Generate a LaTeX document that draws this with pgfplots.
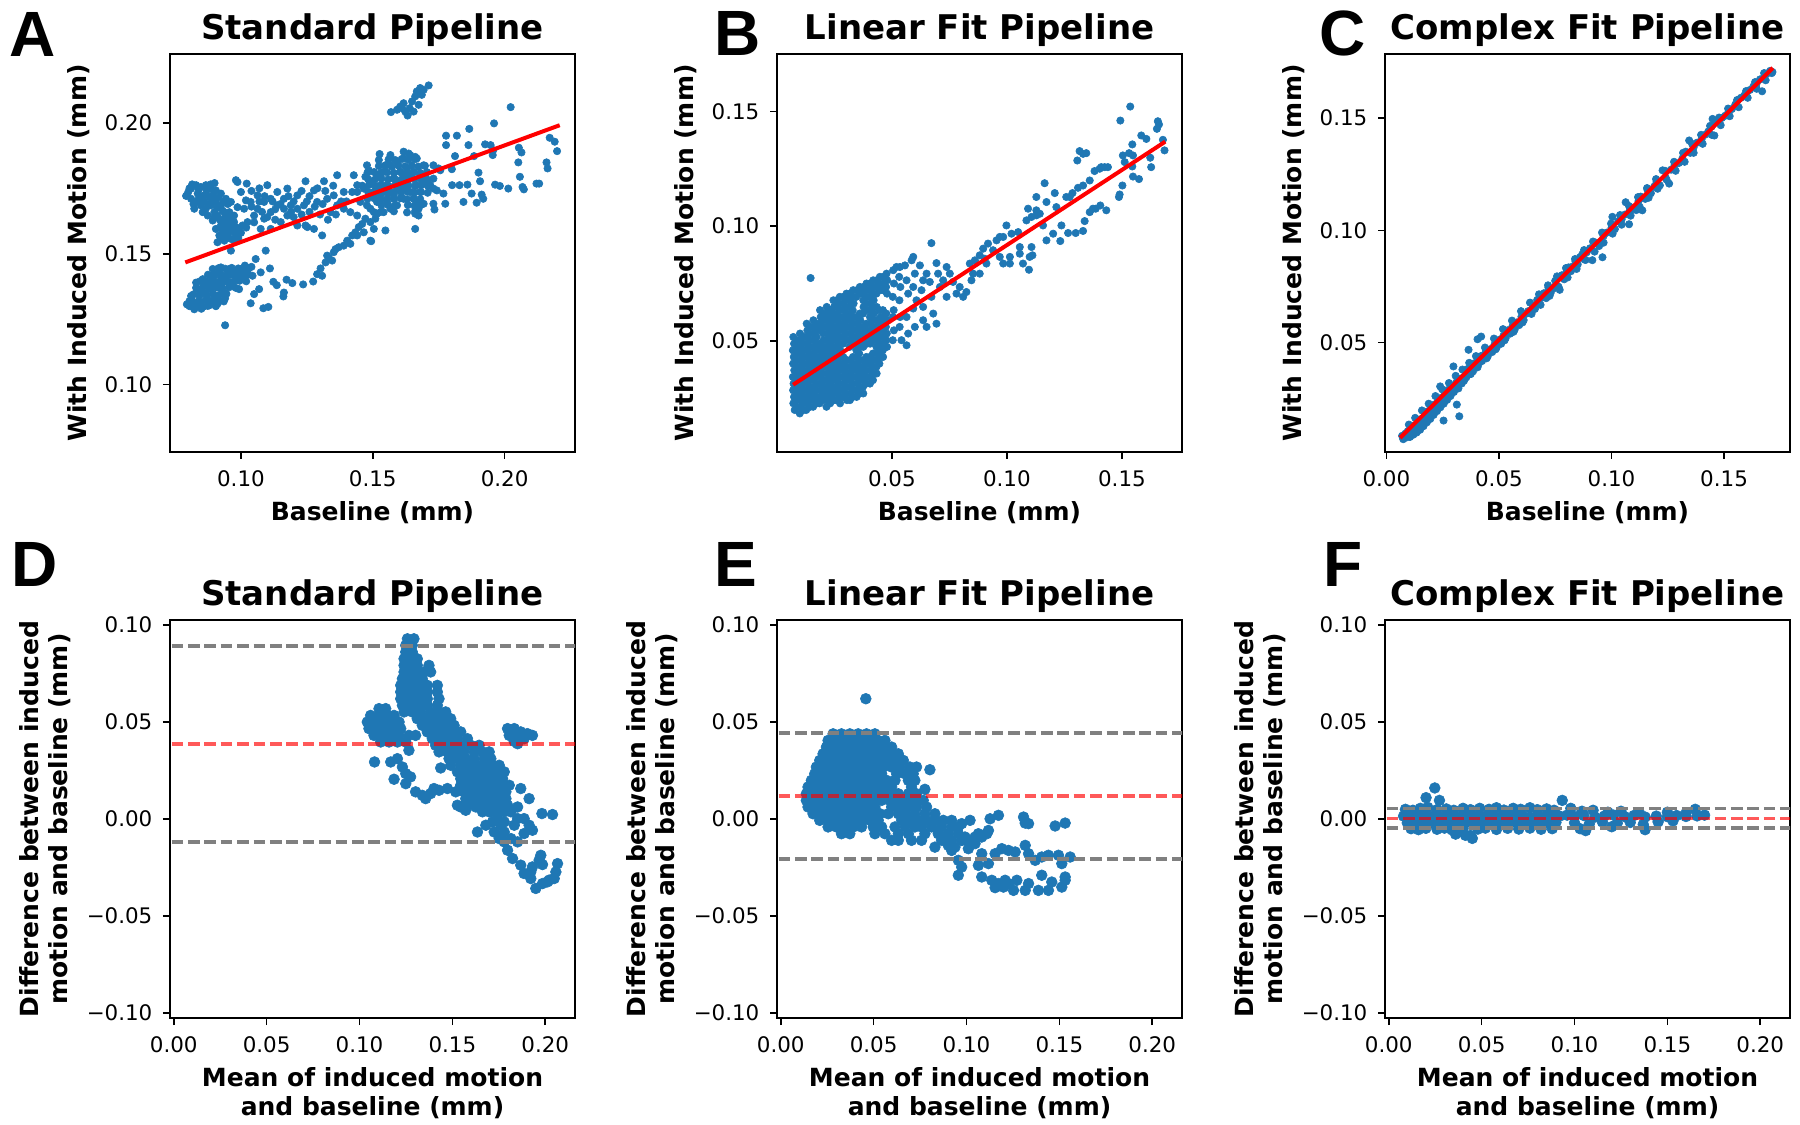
\documentclass[border=0pt]{standalone}
\usepackage{fontspec}
\setmainfont{DejaVu Sans}
\newfontfamily\letterfont{Liberation Sans}
\usepackage{pgfplots}
\pgfplotsset{compat=1.18}

\definecolor{dotblue}{HTML}{1F77B4}
\definecolor{loagray}{HTML}{808080}
\definecolor{fitred}{HTML}{FF0000}

\newcommand\ticksize{\fontsize{10.7}{12.8}\selectfont}
\newcommand\labsize{\fontsize{12.5}{14.5}\selectfont}
\newcommand\ttlsize{\fontsize{17}{20}\selectfont}
\newcommand\letsize{\fontsize{32}{36}\selectfont}

\pgfplotsset{
  panel/.style={
    scale only axis, width=202.5pt, height=199pt,
    clip marker paths=true,
    axis line style={line width=0.8pt, black},
    tick align=outside, xtick pos=left, ytick pos=left,
    major tick length=3.5pt,
    every tick/.style={black, line width=0.8pt},
    tick label style={font=\ticksize, black},
    xticklabel style={yshift=-2.3pt},
    yticklabel style={xshift=-1.8pt},
    every axis title/.style={at={(0.5,1)}, anchor=base, yshift=7pt, font=\ttlsize\bfseries},
    every axis x label/.style={at={(axis description cs:0.5,0)}, anchor=north, yshift=-24.8pt,
      font=\labsize\bfseries, inner sep=0pt, align=center},
    every axis y label/.style={at={(axis description cs:-0.1975,0.5)}, anchor=south, rotate=90,
      font=\labsize\bfseries, inner sep=0pt, align=center},
  },
  baplot/.style={panel, xmin=-0.002, xmax=0.216, ymin=-0.1026, ymax=0.1026,
    xtick={0,0.05,0.10,0.15,0.20}, xticklabels={0.00,0.05,0.10,0.15,0.20},
    ytick={-0.10,-0.05,0,0.05,0.10}, yticklabels={−0.10,−0.05,0.00,0.05,0.10},
    xlabel={Mean of induced motion\\and baseline (mm)},
    ylabel={Difference between induced\\motion and baseline (mm)},
    every axis y label/.append style={at={(axis description cs:-0.2444,0.5)}},
  },
  scat/.style={only marks, color=dotblue, mark=*, mark size=1.85pt,
    mark options={fill=dotblue, draw=dotblue, line width=0.3pt}},
  bigscat/.style={only marks, color=dotblue, mark=*, mark size=2.7pt,
    mark options={fill=dotblue, draw=dotblue, line width=0.3pt}},
  fitline/.style={fitred, line width=2pt, no marks},
  loa/.style={loagray, line width=1.7pt, no marks, dash pattern=on 5.8pt off 2.4pt},
  meanline/.style={red, opacity=0.65, line width=1.7pt, no marks, dash pattern=on 5.8pt off 2.4pt},
}

\begin{document}
\begin{tikzpicture}
\path[use as bounding box] (0,0) rectangle (900pt,562.5pt);

% ---------------- A: standard pipeline, scatter ----------------
\begin{axis}[panel, at={(85pt,336.5pt)}, anchor=south west,
  xmin=0.0731, xmax=0.2267, ymin=0.0743, ymax=0.2263,
  xtick={0.10,0.15,0.20}, xticklabels={0.10,0.15,0.20},
  ytick={0.10,0.15,0.20}, yticklabels={0.10,0.15,0.20},
  title={Standard Pipeline}, xlabel={Baseline (mm)}, ylabel={With Induced Motion (mm)}]
\addplot[scat] coordinates {
(0.0795,0.1307) (0.0823,0.1288) (0.0811,0.1339) (0.0836,0.1365) (0.0830,0.1390) (0.0855,0.1403)
(0.0848,0.1314) (0.0874,0.1326) (0.0861,0.1352) (0.0886,0.1365) (0.0880,0.1390) (0.0899,0.1416)
(0.0893,0.1442) (0.0924,0.1448) (0.0911,0.1339) (0.0905,0.1301) (0.0937,0.1352) (0.0930,0.1390)
(0.0949,0.1416) (0.0956,0.1442) (0.0974,0.1429) (0.0968,0.1378) (0.0987,0.1416) (0.1000,0.1442)
(0.1012,0.1403) (0.1025,0.1429) (0.1044,0.1416) (0.0993,0.1365) (0.0937,0.1416) (0.0911,0.1390)
(0.0861,0.1378) (0.0842,0.1339) (0.0874,0.1301) (0.0899,0.1326) (0.0817,0.1314) (0.0886,0.1416)
(0.0962,0.1390) (0.0918,0.1429) (0.0805,0.1320) (0.0850,0.1290) (0.0868,0.1345) (0.0895,0.1380)
(0.0920,0.1370) (0.0945,0.1395) (0.0960,0.1420) (0.0980,0.1398) (0.1005,0.1420) (0.1030,0.1445)
(0.0940,0.1330) (0.0912,0.1310) (0.0865,0.1395) (0.0925,0.1410) (0.1040,0.1450) (0.1015,0.1455)
(0.0805,0.1300) (0.0830,0.1302) (0.0857,0.1298) (0.0880,0.1303) (0.0905,0.1300)
(0.0815,0.1322) (0.0840,0.1318) (0.0865,0.1323) (0.0890,0.1320) (0.0915,0.1322) (0.0935,0.1318)
(0.0820,0.1345) (0.0845,0.1347) (0.0870,0.1343) (0.0895,0.1346) (0.0920,0.1344) (0.0945,0.1347)
(0.0830,0.1370) (0.0855,0.1372) (0.0880,0.1368) (0.0905,0.1371) (0.0930,0.1369) (0.0955,0.1372) (0.0980,0.1370)
(0.0845,0.1395) (0.0870,0.1393) (0.0895,0.1397) (0.0920,0.1394) (0.0945,0.1396) (0.0970,0.1393) (0.0995,0.1397) (0.1020,0.1395)
(0.0875,0.1420) (0.0900,0.1422) (0.0925,0.1418) (0.0950,0.1421) (0.0975,0.1419) (0.1000,0.1422) (0.1025,0.1420)
(0.0915,0.1445) (0.0940,0.1443) (0.0965,0.1446) (0.0990,0.1444) (0.1015,0.1446)
(0.1056,0.1480) (0.1094,0.1512) (0.1075,0.1429) (0.1110,0.1444) (0.1037,0.1311) (0.1050,0.1346)
(0.1069,0.1365) (0.1085,0.1292) (0.1104,0.1297) (0.0940,0.1227) (0.0962,0.1512) (0.1123,0.1393)
(0.1136,0.1380) (0.1163,0.1352) (0.1161,0.1337) (0.1173,0.1401) (0.1195,0.1388) (0.1236,0.1383)
(0.1274,0.1394) (0.1289,0.1422) (0.1302,0.1444) (0.1321,0.1467) (0.1334,0.1483) (0.1352,0.1506)
(0.1371,0.1525) (0.1390,0.1531) (0.1403,0.1550) (0.1422,0.1570) (0.1434,0.1582) (0.1447,0.1602)
(0.1460,0.1614) (0.1472,0.1634) (0.1491,0.1550) (0.1327,0.1493) (0.1359,0.1518) (0.1415,0.1538)
(0.1441,0.1570) (0.1466,0.1582) (0.1491,0.1621) (0.1510,0.1634) (0.1516,0.1653) (0.1548,0.1589)
(0.1504,0.1595) (0.1308,0.1416) (0.1346,0.1474)
(0.1569,0.2041) (0.1592,0.2050) (0.1604,0.2062) (0.1617,0.2075) (0.1632,0.2028) (0.1640,0.2056)
(0.1649,0.2082) (0.1661,0.2101) (0.1667,0.2120) (0.1680,0.2133) (0.1686,0.2107) (0.1674,0.2069)
(0.1655,0.2043) (0.1623,0.2043) (0.1712,0.2143) (0.1611,0.2056) (0.1693,0.2126)
(0.1491,0.1774) (0.1516,0.1800) (0.1541,0.1813) (0.1567,0.1838) (0.1592,0.1851) (0.1617,0.1864)
(0.1642,0.1877) (0.1667,0.1864) (0.1693,0.1838) (0.1680,0.1800) (0.1667,0.1762) (0.1642,0.1736)
(0.1617,0.1710) (0.1592,0.1685) (0.1567,0.1672) (0.1541,0.1659) (0.1516,0.1698) (0.1491,0.1723)
(0.1466,0.1749) (0.1478,0.1685) (0.1504,0.1659) (0.1529,0.1723) (0.1554,0.1762) (0.1579,0.1787)
(0.1604,0.1813) (0.1630,0.1826) (0.1655,0.1813) (0.1680,0.1736) (0.1655,0.1710) (0.1630,0.1774)
(0.1604,0.1749) (0.1579,0.1723) (0.1554,0.1698) (0.1529,0.1762) (0.1567,0.1877) (0.1617,0.1890)
(0.1548,0.1838) (0.1504,0.1736) (0.1453,0.1698) (0.1441,0.1736) (0.1472,0.1794) (0.1523,0.1858)
(0.1699,0.1800) (0.1674,0.1672) (0.1693,0.1774) (0.1642,0.1800) (0.1592,0.1774) (0.1617,0.1800)
(0.1567,0.1736) (0.1541,0.1736) (0.1516,0.1749) (0.1617,0.1749) (0.1667,0.1698) (0.1636,0.1883)
(0.1661,0.1870) (0.1491,0.1672) (0.1526,0.1881) (0.1478,0.1838) (0.1485,0.1819) (0.1661,0.1653)
(0.1730,0.1838) (0.1749,0.1826)
(0.1560,0.1860) (0.1585,0.1858) (0.1610,0.1862) (0.1635,0.1859) (0.1660,0.1861)
(0.1523,0.1835) (0.1548,0.1837) (0.1573,0.1833) (0.1598,0.1836) (0.1623,0.1834) (0.1648,0.1837) (0.1673,0.1833) (0.1698,0.1836)
(0.1480,0.1810) (0.1505,0.1812) (0.1530,0.1808) (0.1555,0.1811) (0.1580,0.1809) (0.1605,0.1812) (0.1630,0.1808) (0.1655,0.1811) (0.1680,0.1809) (0.1705,0.1812)
(0.1483,0.1785) (0.1508,0.1783) (0.1533,0.1787) (0.1558,0.1784) (0.1583,0.1786) (0.1608,0.1783) (0.1633,0.1787) (0.1658,0.1784) (0.1683,0.1786) (0.1708,0.1783) (0.1730,0.1787)
(0.1460,0.1760) (0.1485,0.1762) (0.1510,0.1758) (0.1535,0.1761) (0.1560,0.1759) (0.1585,0.1762) (0.1610,0.1758) (0.1635,0.1761) (0.1660,0.1759) (0.1685,0.1762) (0.1710,0.1758)
(0.1483,0.1735) (0.1508,0.1733) (0.1533,0.1737) (0.1558,0.1734) (0.1583,0.1736) (0.1608,0.1733) (0.1633,0.1737) (0.1658,0.1734) (0.1683,0.1736) (0.1708,0.1733)
(0.1480,0.1710) (0.1505,0.1712) (0.1530,0.1708) (0.1555,0.1711) (0.1580,0.1709) (0.1605,0.1712) (0.1630,0.1708) (0.1655,0.1711) (0.1680,0.1709)
(0.1533,0.1685) (0.1558,0.1687) (0.1583,0.1683) (0.1633,0.1686) (0.1658,0.1684) (0.1683,0.1687)
(0.1530,0.1660) (0.1580,0.1662) (0.1630,0.1658) (0.1660,0.1661)
(0.0987,0.1774) (0.1022,0.1768) (0.1063,0.1723) (0.1100,0.1762) (0.1138,0.1736) (0.1176,0.1749)
(0.1214,0.1723) (0.1245,0.1777) (0.1277,0.1742) (0.1315,0.1777) (0.1365,0.1800) (0.1428,0.1800)
(0.1012,0.1672) (0.1050,0.1646) (0.1088,0.1634) (0.1113,0.1659) (0.1151,0.1621) (0.1176,0.1646)
(0.1214,0.1608) (0.1252,0.1602) (0.1277,0.1595) (0.1308,0.1570) (0.1340,0.1659) (0.1365,0.1685)
(0.1390,0.1672) (0.1415,0.1659) (0.1441,0.1646) (0.1390,0.1736) (0.1327,0.1710) (0.1289,0.1698)
(0.1239,0.1685) (0.1189,0.1685) (0.1138,0.1685) (0.1088,0.1698) (0.1037,0.1698) (0.1000,0.1736)
(0.1025,0.1621) (0.1075,0.1595) (0.1113,0.1595) (0.1163,0.1672) (0.1214,0.1672) (0.1063,0.1672)
(0.1113,0.1710) (0.1163,0.1710) (0.0974,0.1621) (0.1245,0.1608) (0.1352,0.1723) (0.1422,0.1736)
(0.1441,0.1762)
(0.1040,0.1740) (0.1070,0.1750) (0.1090,0.1720) (0.1120,0.1700) (0.1150,0.1690) (0.1180,0.1720)
(0.1200,0.1700) (0.1230,0.1740) (0.1260,0.1720) (0.1290,0.1750) (0.1320,0.1740) (0.1350,0.1760)
(0.1380,0.1700) (0.1050,0.1620) (0.1080,0.1660) (0.1100,0.1640) (0.1130,0.1630) (0.1200,0.1640)
(0.1230,0.1650) (0.1260,0.1660) (0.1300,0.1650) (0.1330,0.1630) (0.1040,0.1680) (0.1070,0.1700)
(0.1130,0.1670) (0.1190,0.1660) (0.1250,0.1700) (0.1280,0.1680) (0.1310,0.1690) (0.1360,0.1650)
(0.1400,0.1700)
(0.0792,0.1721) (0.0811,0.1749) (0.0830,0.1762) (0.0848,0.1755) (0.0867,0.1762) (0.0886,0.1749)
(0.0905,0.1742) (0.0924,0.1730) (0.0811,0.1710) (0.0830,0.1698) (0.0848,0.1685) (0.0867,0.1672)
(0.0886,0.1685) (0.0905,0.1698) (0.0924,0.1685) (0.0943,0.1710) (0.0962,0.1698) (0.0861,0.1723)
(0.0836,0.1730) (0.0880,0.1717) (0.0874,0.1646) (0.0893,0.1627) (0.0911,0.1646) (0.0937,0.1659)
(0.0905,0.1595) (0.0924,0.1608) (0.0943,0.1621) (0.0918,0.1570) (0.0937,0.1582) (0.0956,0.1595)
(0.0911,0.1544) (0.0937,0.1550) (0.0962,0.1557) (0.0981,0.1570) (0.0993,0.1589) (0.1006,0.1608)
(0.0974,0.1646) (0.0956,0.1659) (0.0987,0.1678) (0.1019,0.1704) (0.0981,0.1781) (0.0899,0.1659)
(0.0855,0.1659) (0.0823,0.1672)
(0.0800,0.1735) (0.0815,0.1765) (0.0840,0.1745) (0.0855,0.1720) (0.0870,0.1740) (0.0895,0.1725)
(0.0915,0.1715) (0.0935,0.1700) (0.0950,0.1690) (0.0820,0.1690) (0.0840,0.1710) (0.0860,0.1700)
(0.0875,0.1690) (0.0895,0.1705) (0.0910,0.1675) (0.0930,0.1665) (0.0950,0.1650) (0.0900,0.1640)
(0.0920,0.1630) (0.0940,0.1640) (0.0960,0.1630) (0.0965,0.1610) (0.0945,0.1600) (0.0930,0.1590)
(0.0950,0.1575) (0.0970,0.1585) (0.0985,0.1600) (0.0925,0.1560) (0.0945,0.1560) (0.0975,0.1550)
(0.0990,0.1560) (0.1000,0.1580) (0.1020,0.1600) (0.0805,0.1750) (0.0885,0.1765) (0.0900,0.1770)
(0.1778,0.1951) (0.1819,0.1951) (0.1866,0.1977) (0.1960,0.1998) (0.2023,0.2060) (0.1778,0.1915)
(0.1863,0.1915) (0.1926,0.1918) (0.1947,0.1915) (0.1957,0.1896) (0.1812,0.1873) (0.1884,0.1873)
(0.1955,0.1877) (0.2054,0.1905) (0.2064,0.1887) (0.2052,0.1849) (0.2171,0.1943) (0.2190,0.1928)
(0.2199,0.1892) (0.2159,0.1849) (0.2163,0.1826) (0.2058,0.1794) (0.2068,0.1755) (0.2073,0.1746)
(0.2121,0.1768) (0.2131,0.1768) (0.1964,0.1764) (0.1982,0.1759) (0.2014,0.1749) (0.1901,0.1810)
(0.1907,0.1777) (0.1875,0.1730) (0.1913,0.1726) (0.1919,0.1710) (0.1894,0.1695) (0.1844,0.1698)
(0.1829,0.1762) (0.1859,0.1764) (0.1801,0.1762) (0.1800,0.1823) (0.1756,0.1819) (0.1730,0.1749)
(0.1743,0.1742) (0.1768,0.1730) (0.1775,0.1691) (0.1730,0.1691) (0.1734,0.1669) (0.1693,0.1691)
(0.1674,0.1646) (0.1661,0.1595) (0.1494,0.1548) (0.1718,0.1762)
};
\addplot[fitline] coordinates {(0.0789,0.1467) (0.2209,0.1991)};
\end{axis}

% ---------------- B: linear fit pipeline, scatter ----------------
\begin{axis}[panel, at={(388.5pt,336.5pt)}, anchor=south west,
  xmin=0.0001, xmax=0.1761, ymin=0.0016, ymax=0.1750,
  xtick={0.05,0.10,0.15}, xticklabels={0.05,0.10,0.15},
  ytick={0.05,0.10,0.15}, yticklabels={0.05,0.10,0.15},
  title={Linear Fit Pipeline}, xlabel={Baseline (mm)}, ylabel={With Induced Motion (mm)}]
\addplot[scat] coordinates {
(0.0072,0.0517) (0.0075,0.0488) (0.0070,0.0459) (0.0074,0.0430) (0.0071,0.0401) (0.0076,0.0372)
(0.0070,0.0343) (0.0073,0.0314) (0.0071,0.0285) (0.0075,0.0256) (0.0072,0.0228) (0.0078,0.0199)
(0.0101,0.0532) (0.0098,0.0503) (0.0104,0.0474) (0.0100,0.0445) (0.0103,0.0416) (0.0099,0.0387)
(0.0102,0.0358) (0.0100,0.0329) (0.0104,0.0300) (0.0098,0.0271) (0.0101,0.0242) (0.0103,0.0213)
(0.0100,0.0184)
(0.0130,0.0575) (0.0133,0.0546) (0.0127,0.0517) (0.0131,0.0488) (0.0128,0.0459) (0.0133,0.0430)
(0.0129,0.0401) (0.0132,0.0372) (0.0127,0.0343) (0.0131,0.0314) (0.0129,0.0285) (0.0133,0.0256)
(0.0130,0.0228) (0.0128,0.0199)
(0.0159,0.0590) (0.0156,0.0561) (0.0161,0.0532) (0.0158,0.0503) (0.0162,0.0474) (0.0157,0.0445)
(0.0160,0.0416) (0.0156,0.0387) (0.0161,0.0358) (0.0158,0.0329) (0.0162,0.0300) (0.0157,0.0271)
(0.0160,0.0242) (0.0158,0.0213)
(0.0188,0.0634) (0.0191,0.0604) (0.0186,0.0575) (0.0190,0.0546) (0.0187,0.0488) (0.0191,0.0459)
(0.0185,0.0430) (0.0189,0.0401) (0.0186,0.0372) (0.0190,0.0343) (0.0187,0.0314) (0.0191,0.0285)
(0.0188,0.0256) (0.0186,0.0228)
(0.0217,0.0648) (0.0214,0.0619) (0.0219,0.0590) (0.0215,0.0561) (0.0220,0.0532) (0.0216,0.0503)
(0.0218,0.0474) (0.0214,0.0445) (0.0219,0.0416) (0.0216,0.0387) (0.0220,0.0358) (0.0215,0.0329)
(0.0218,0.0300) (0.0214,0.0271) (0.0219,0.0242) (0.0216,0.0213)
(0.0246,0.0677) (0.0249,0.0648) (0.0244,0.0619) (0.0248,0.0590) (0.0245,0.0561) (0.0249,0.0532)
(0.0243,0.0503) (0.0247,0.0474) (0.0244,0.0445) (0.0248,0.0416) (0.0245,0.0387) (0.0249,0.0358)
(0.0244,0.0329) (0.0247,0.0300) (0.0245,0.0271) (0.0248,0.0242)
(0.0274,0.0692) (0.0271,0.0663) (0.0276,0.0634) (0.0272,0.0604) (0.0277,0.0575) (0.0273,0.0546)
(0.0275,0.0517) (0.0271,0.0488) (0.0276,0.0459) (0.0273,0.0430) (0.0277,0.0401) (0.0272,0.0372)
(0.0275,0.0343) (0.0271,0.0314) (0.0276,0.0285) (0.0273,0.0256) (0.0275,0.0228)
(0.0303,0.0706) (0.0306,0.0677) (0.0301,0.0648) (0.0305,0.0619) (0.0302,0.0590) (0.0306,0.0561)
(0.0300,0.0532) (0.0304,0.0503) (0.0305,0.0416) (0.0301,0.0387) (0.0306,0.0358) (0.0302,0.0329)
(0.0304,0.0300) (0.0301,0.0271) (0.0305,0.0242)
(0.0332,0.0721) (0.0329,0.0692) (0.0334,0.0663) (0.0330,0.0634) (0.0335,0.0604) (0.0331,0.0575)
(0.0333,0.0546) (0.0329,0.0517) (0.0334,0.0488) (0.0331,0.0430) (0.0335,0.0401) (0.0330,0.0372)
(0.0333,0.0343) (0.0329,0.0314) (0.0334,0.0285) (0.0331,0.0256)
(0.0361,0.0735) (0.0364,0.0706) (0.0360,0.0619) (0.0363,0.0590) (0.0359,0.0561) (0.0364,0.0532)
(0.0360,0.0503) (0.0362,0.0474) (0.0358,0.0445) (0.0363,0.0416) (0.0360,0.0387) (0.0364,0.0358)
(0.0359,0.0329) (0.0362,0.0300) (0.0360,0.0271)
(0.0390,0.0750) (0.0387,0.0721) (0.0392,0.0692) (0.0388,0.0663) (0.0393,0.0634) (0.0389,0.0575)
(0.0391,0.0546) (0.0387,0.0517) (0.0392,0.0488) (0.0389,0.0430) (0.0393,0.0401) (0.0388,0.0372)
(0.0391,0.0343) (0.0389,0.0314)
(0.0419,0.0764) (0.0422,0.0735) (0.0417,0.0706) (0.0421,0.0677) (0.0418,0.0648) (0.0422,0.0619)
(0.0416,0.0590) (0.0420,0.0561) (0.0417,0.0532) (0.0421,0.0503) (0.0418,0.0445) (0.0422,0.0416)
(0.0417,0.0387) (0.0420,0.0358) (0.0418,0.0329)
(0.0448,0.0779) (0.0445,0.0750) (0.0450,0.0721) (0.0446,0.0634) (0.0451,0.0604) (0.0447,0.0575)
(0.0449,0.0546) (0.0445,0.0517) (0.0450,0.0488) (0.0447,0.0459) (0.0451,0.0430) (0.0446,0.0401)
(0.0477,0.0793) (0.0480,0.0764) (0.0475,0.0735) (0.0479,0.0706) (0.0476,0.0619) (0.0480,0.0590)
(0.0474,0.0561) (0.0478,0.0532) (0.0476,0.0503) (0.0479,0.0474)
(0.0506,0.0808) (0.0509,0.0750) (0.0504,0.0692) (0.0508,0.0634) (0.0505,0.0604) (0.0509,0.0546)
(0.0504,0.0503)
(0.0535,0.0822) (0.0532,0.0779) (0.0537,0.0735) (0.0533,0.0677) (0.0536,0.0604) (0.0534,0.0561)
(0.0087,0.0213) (0.0086,0.0242) (0.0088,0.0271) (0.0087,0.0300) (0.0086,0.0329) (0.0088,0.0358)
(0.0087,0.0387) (0.0086,0.0416) (0.0088,0.0445) (0.0087,0.0474) (0.0086,0.0503)
(0.0116,0.0199) (0.0115,0.0228) (0.0117,0.0256) (0.0116,0.0285) (0.0115,0.0314) (0.0117,0.0343)
(0.0116,0.0372) (0.0115,0.0401) (0.0117,0.0430) (0.0116,0.0459) (0.0115,0.0488) (0.0117,0.0517)
(0.0145,0.0213) (0.0144,0.0242) (0.0146,0.0271) (0.0145,0.0300) (0.0144,0.0329) (0.0146,0.0358)
(0.0145,0.0387) (0.0144,0.0416) (0.0146,0.0445) (0.0145,0.0474) (0.0144,0.0503) (0.0146,0.0532)
(0.0145,0.0561)
(0.0174,0.0228) (0.0173,0.0256) (0.0175,0.0285) (0.0174,0.0314) (0.0173,0.0343) (0.0175,0.0372)
(0.0174,0.0401) (0.0173,0.0430) (0.0175,0.0459) (0.0174,0.0488) (0.0173,0.0517) (0.0175,0.0546)
(0.0174,0.0575)
(0.0203,0.0242) (0.0202,0.0271) (0.0204,0.0300) (0.0203,0.0329) (0.0202,0.0358) (0.0204,0.0387)
(0.0203,0.0416) (0.0202,0.0445) (0.0204,0.0474) (0.0203,0.0503) (0.0202,0.0532) (0.0204,0.0561)
(0.0203,0.0590) (0.0202,0.0619)
(0.0232,0.0228) (0.0231,0.0256) (0.0233,0.0285) (0.0232,0.0314) (0.0231,0.0343) (0.0233,0.0372)
(0.0232,0.0401) (0.0231,0.0430) (0.0233,0.0459) (0.0232,0.0488) (0.0231,0.0517) (0.0233,0.0546)
(0.0232,0.0575) (0.0231,0.0604) (0.0233,0.0634)
(0.0260,0.0242) (0.0259,0.0271) (0.0261,0.0300) (0.0260,0.0329) (0.0259,0.0358) (0.0261,0.0387)
(0.0260,0.0416) (0.0259,0.0445) (0.0261,0.0474) (0.0260,0.0503) (0.0259,0.0532) (0.0261,0.0561)
(0.0260,0.0590) (0.0259,0.0619) (0.0261,0.0648) (0.0260,0.0677)
(0.0289,0.0256) (0.0288,0.0285) (0.0290,0.0314) (0.0289,0.0343) (0.0288,0.0372) (0.0290,0.0401)
(0.0289,0.0430) (0.0288,0.0488) (0.0290,0.0517) (0.0289,0.0546) (0.0288,0.0575) (0.0290,0.0604)
(0.0289,0.0634) (0.0288,0.0663) (0.0290,0.0692)
(0.0318,0.0242) (0.0317,0.0271) (0.0319,0.0300) (0.0318,0.0329) (0.0317,0.0358) (0.0319,0.0387)
(0.0318,0.0416) (0.0317,0.0474) (0.0319,0.0503) (0.0318,0.0532) (0.0317,0.0561) (0.0319,0.0590)
(0.0318,0.0619) (0.0317,0.0648) (0.0319,0.0677) (0.0318,0.0706)
(0.0347,0.0256) (0.0346,0.0285) (0.0348,0.0314) (0.0347,0.0343) (0.0346,0.0372) (0.0348,0.0401)
(0.0347,0.0430) (0.0346,0.0459) (0.0348,0.0488) (0.0347,0.0517) (0.0346,0.0546) (0.0348,0.0575)
(0.0347,0.0604) (0.0346,0.0692) (0.0348,0.0721)
(0.0376,0.0271) (0.0375,0.0300) (0.0377,0.0329) (0.0376,0.0358) (0.0375,0.0387) (0.0377,0.0416)
(0.0376,0.0474) (0.0375,0.0503) (0.0377,0.0532) (0.0376,0.0561) (0.0375,0.0619) (0.0377,0.0648)
(0.0376,0.0677) (0.0375,0.0706) (0.0377,0.0735)
(0.0405,0.0314) (0.0404,0.0343) (0.0406,0.0372) (0.0405,0.0401) (0.0404,0.0430) (0.0406,0.0488)
(0.0405,0.0517) (0.0404,0.0546) (0.0406,0.0575) (0.0405,0.0604) (0.0404,0.0634) (0.0406,0.0663)
(0.0405,0.0692) (0.0404,0.0721) (0.0406,0.0750)
(0.0434,0.0358) (0.0433,0.0387) (0.0435,0.0416) (0.0434,0.0445) (0.0433,0.0474) (0.0435,0.0503)
(0.0434,0.0532) (0.0433,0.0561) (0.0435,0.0590) (0.0434,0.0648) (0.0433,0.0706) (0.0435,0.0735)
(0.0434,0.0764)
(0.0462,0.0430) (0.0461,0.0459) (0.0463,0.0488) (0.0462,0.0517) (0.0461,0.0546) (0.0463,0.0575)
(0.0462,0.0604) (0.0461,0.0634) (0.0463,0.0721) (0.0462,0.0750) (0.0461,0.0779)
(0.0557,0.0829) (0.0564,0.0764) (0.0571,0.0706) (0.0564,0.0604) (0.0571,0.0532) (0.0564,0.0481)
(0.0593,0.0866) (0.0600,0.0793) (0.0593,0.0735) (0.0607,0.0677) (0.0593,0.0641) (0.0600,0.0561)
(0.0622,0.0829) (0.0636,0.0764) (0.0629,0.0721) (0.0636,0.0648) (0.0636,0.0590) (0.0651,0.0793)
(0.0665,0.0757) (0.0672,0.0692) (0.0680,0.0619) (0.0694,0.0839) (0.0701,0.0793) (0.0709,0.0735)
(0.0723,0.0764) (0.0738,0.0822) (0.0752,0.0793) (0.0766,0.0757) (0.0781,0.0706) (0.0795,0.0735)
(0.0810,0.0692) (0.0824,0.0713) (0.0738,0.0692) (0.0694,0.0575) (0.0651,0.0561) (0.0542,0.0503)
(0.0672,0.0926) (0.0147,0.0774) (0.0586,0.0851) (0.0520,0.0822)
(0.0839,0.0837) (0.0861,0.0851) (0.0882,0.0873) (0.0897,0.0902) (0.0918,0.0924) (0.0940,0.0895)
(0.0955,0.0938) (0.0969,0.0866) (0.0911,0.0837) (0.0882,0.0793) (0.0853,0.0793) (0.0846,0.0764)
(0.0904,0.0858) (0.0984,0.0953) (0.1020,0.0967) (0.1013,0.0866) (0.1013,0.0837) (0.1056,0.0880)
(0.1070,0.0837) (0.1099,0.0866) (0.1096,0.0810) (0.0984,0.0837) (0.1107,0.0909) (0.1056,0.0909)
(0.1085,0.1025) (0.1107,0.1040) (0.1128,0.1047) (0.1143,0.1054) (0.1128,0.1127) (0.1164,0.1187)
(0.1172,0.1105) (0.1157,0.1003) (0.1172,0.0938) (0.1237,0.1003) (0.1232,0.0935) (0.1208,0.1144)
(0.1215,0.1083) (0.1258,0.1127) (0.1285,0.1144) (0.1309,0.1167) (0.1331,0.1177) (0.1360,0.1199)
(0.1381,0.1240) (0.1403,0.1250) (0.1425,0.1257) (0.1439,0.1257) (0.1306,0.1286) (0.1316,0.1327)
(0.1331,0.1315) (0.1345,0.1318) (0.1266,0.0970) (0.1299,0.0970) (0.1331,0.0979) (0.1338,0.1022)
(0.1360,0.1061) (0.1386,0.1076) (0.1406,0.1090) (0.1432,0.1069) (0.1487,0.1127) (0.1490,0.1138)
(0.1502,0.1177) (0.1548,0.1216) (0.1574,0.1205) (0.1545,0.1260) (0.1548,0.1308) (0.1504,0.1308)
(0.1531,0.1318) (0.1545,0.1356) (0.1584,0.1395) (0.1606,0.1380) (0.1623,0.1298) (0.1627,0.1257)
(0.1656,0.1457) (0.1661,0.1443) (0.1652,0.1424) (0.1678,0.1376) (0.1685,0.1330) (0.1493,0.1460)
(0.1536,0.1521) (0.0998,0.1003) (0.1049,0.0974) (0.1092,0.1076) (0.0969,0.0953) (0.1273,0.1127)
(0.1374,0.1076) (0.1512,0.1279) (0.1410,0.1257) (0.1128,0.1069) (0.1201,0.0967) (0.1111,0.0873)
};
\addplot[fitline] coordinates {(0.0071,0.0309) (0.1688,0.1368)};
\end{axis}

% ---------------- C: complex fit pipeline, scatter ----------------
\begin{axis}[panel, at={(692.5pt,336.5pt)}, anchor=south west,
  xmin=-0.0006, xmax=0.1793, ymin=0.0013, ymax=0.1785,
  xtick={0,0.05,0.10,0.15}, xticklabels={0.00,0.05,0.10,0.15},
  ytick={0.05,0.10,0.15}, yticklabels={0.05,0.10,0.15},
  title={Complex Fit Pipeline}, xlabel={Baseline (mm)}, ylabel={With Induced Motion (mm)}]
\addplot[scat] coordinates {
(0.0070,0.0085) (0.0075,0.0070) (0.0085,0.0095) (0.0090,0.0078) (0.0095,0.0105) (0.0100,0.0088)
(0.0105,0.0080) (0.0110,0.0120) (0.0115,0.0098) (0.0120,0.0090) (0.0125,0.0132) (0.0130,0.0110)
(0.0135,0.0100) (0.0140,0.0145) (0.0145,0.0125) (0.0150,0.0112) (0.0155,0.0160) (0.0160,0.0140)
(0.0165,0.0128) (0.0170,0.0172) (0.0175,0.0155) (0.0180,0.0145) (0.0185,0.0195) (0.0190,0.0172)
(0.0195,0.0160) (0.0200,0.0205) (0.0205,0.0188) (0.0210,0.0178) (0.0215,0.0225) (0.0220,0.0203)
(0.0225,0.0195) (0.0230,0.0240) (0.0235,0.0218) (0.0240,0.0212) (0.0245,0.0255) (0.0250,0.0235)
(0.0255,0.0228) (0.0260,0.0275) (0.0265,0.0252) (0.0270,0.0245) (0.0275,0.0290) (0.0280,0.0268)
(0.0285,0.0262) (0.0290,0.0305) (0.0295,0.0285) (0.0300,0.0280) (0.0310,0.0322) (0.0315,0.0300)
(0.0320,0.0296) (0.0330,0.0340) (0.0335,0.0318) (0.0340,0.0330) (0.0350,0.0355) (0.0355,0.0345)
(0.0254,0.0153) (0.0324,0.0172) (0.0298,0.0394) (0.0313,0.0224) (0.0239,0.0305) (0.0365,0.0468)
(0.0360,0.0382) (0.0370,0.0360) (0.0380,0.0395) (0.0385,0.0372) (0.0395,0.0410) (0.0400,0.0392)
(0.0410,0.0405) (0.0420,0.0440) (0.0425,0.0418) (0.0421,0.0527) (0.0405,0.0515) (0.0440,0.0455)
(0.0450,0.0438) (0.0460,0.0470) (0.0470,0.0458) (0.0480,0.0490) (0.0490,0.0478) (0.0500,0.0512)
(0.0510,0.0495) (0.0520,0.0530) (0.0530,0.0520) (0.0540,0.0555) (0.0550,0.0540) (0.0560,0.0572)
(0.0570,0.0558) (0.0580,0.0590) (0.0590,0.0578) (0.0600,0.0615) (0.0610,0.0600) (0.0620,0.0628)
(0.0630,0.0640) (0.0640,0.0630) (0.0650,0.0665) (0.0660,0.0650) (0.0670,0.0690) (0.0680,0.0672)
(0.0690,0.0700) (0.0700,0.0720) (0.0710,0.0698) (0.0720,0.0745) (0.0730,0.0722) (0.0740,0.0740)
(0.0750,0.0775) (0.0760,0.0752) (0.0770,0.0735) (0.0780,0.0800) (0.0790,0.0782) (0.0800,0.0810)
(0.0810,0.0835) (0.0820,0.0818) (0.0830,0.0840) (0.0840,0.0862) (0.0850,0.0848) (0.0860,0.0880)
(0.0870,0.0893) (0.0880,0.0870) (0.0890,0.0902) (0.0905,0.0920) (0.0915,0.0867) (0.0930,0.0945)
(0.0945,0.0930) (0.0960,0.0880) (0.0965,0.0975) (0.0980,0.0990) (0.1004,0.1060) (0.1000,0.1010)
(0.1015,0.1005) (0.1030,0.1040) (0.1045,0.1048) (0.1063,0.1125) (0.1060,0.1070) (0.1078,0.1027)
(0.1080,0.1085) (0.1095,0.1100) (0.1110,0.1090) (0.1120,0.1130) (0.1130,0.1150) (0.1137,0.1089)
(0.1150,0.1140) (0.1160,0.1180) (0.1175,0.1165) (0.1190,0.1195) (0.1200,0.1215) (0.1215,0.1200)
(0.1227,0.1267) (0.1240,0.1235) (0.1256,0.1208) (0.1265,0.1270) (0.1280,0.1290) (0.1300,0.1300)
(0.1315,0.1320) (0.1330,0.1350) (0.1345,0.1400) (0.1350,0.1345) (0.1365,0.1370) (0.1380,0.1390)
(0.1400,0.1405) (0.1415,0.1425) (0.1430,0.1440) (0.1445,0.1462) (0.1457,0.1422) (0.1449,0.1496)
(0.1460,0.1480) (0.1475,0.1490) (0.1490,0.1500) (0.1505,0.1510) (0.1520,0.1528) (0.1535,0.1540)
(0.1550,0.1560) (0.1560,0.1578) (0.1575,0.1590) (0.1590,0.1600) (0.1600,0.1612) (0.1615,0.1625)
(0.1630,0.1640) (0.1645,0.1655) (0.1660,0.1672) (0.1669,0.1619) (0.1680,0.1690) (0.1695,0.1700)
(0.1705,0.1710) (0.1715,0.1705)
(0.0100,0.0135) (0.0105,0.0095) (0.0128,0.0165) (0.0135,0.0122) (0.0158,0.0198) (0.0165,0.0150)
(0.0188,0.0228) (0.0195,0.0180) (0.0218,0.0262) (0.0225,0.0210) (0.0248,0.0292) (0.0255,0.0240)
(0.0278,0.0320) (0.0285,0.0270) (0.0308,0.0352) (0.0315,0.0298) (0.0338,0.0380) (0.0345,0.0330)
(0.0368,0.0410) (0.0375,0.0360) (0.0398,0.0440) (0.0405,0.0390) (0.0438,0.0478) (0.0445,0.0430)
(0.0478,0.0518) (0.0485,0.0470) (0.0518,0.0560) (0.0525,0.0510) (0.0558,0.0598) (0.0565,0.0548)
(0.0598,0.0640) (0.0605,0.0590) (0.0638,0.0678) (0.0645,0.0628) (0.0678,0.0715) (0.0685,0.0668)
(0.0718,0.0755) (0.0725,0.0708) (0.0758,0.0795) (0.0765,0.0748) (0.0798,0.0832) (0.0805,0.0790)
(0.0838,0.0872) (0.0845,0.0828) (0.0878,0.0912) (0.0885,0.0868) (0.0918,0.0950) (0.0925,0.0905)
(0.0958,0.0990) (0.0965,0.0945) (0.0998,0.1030) (0.1005,0.0985) (0.1038,0.1068) (0.1045,0.1025)
(0.1078,0.1108) (0.1085,0.1065) (0.1118,0.1148) (0.1125,0.1105) (0.1158,0.1188) (0.1165,0.1145)
(0.1198,0.1228) (0.1205,0.1185) (0.1238,0.1265) (0.1245,0.1225) (0.1278,0.1305) (0.1285,0.1265)
(0.1318,0.1345) (0.1325,0.1305) (0.1358,0.1385) (0.1365,0.1345) (0.1398,0.1425) (0.1405,0.1385)
(0.1438,0.1465) (0.1445,0.1425) (0.1478,0.1502) (0.1485,0.1468) (0.1518,0.1542) (0.1525,0.1508)
(0.1558,0.1580) (0.1565,0.1548) (0.1598,0.1620) (0.1605,0.1590) (0.1638,0.1660) (0.1645,0.1630)
(0.1678,0.1700) (0.1685,0.1668) (0.1712,0.1700)
};
\addplot[fitline] coordinates {(0.0061,0.0076) (0.1717,0.1723)};
\end{axis}

% ---------------- D: standard pipeline, Bland-Altman ----------------
\begin{axis}[baplot, at={(85pt,53.5pt)}, anchor=south west, title={Standard Pipeline}]
\addplot[bigscat] coordinates {
(0.1258,0.0929) (0.1293,0.0929) (0.1249,0.0895) (0.1284,0.0895) (0.1249,0.0861) (0.1284,0.0861)
(0.1240,0.0826) (0.1275,0.0826) (0.1311,0.0826) (0.1240,0.0792) (0.1275,0.0792) (0.1311,0.0792)
(0.1374,0.0792) (0.1240,0.0758) (0.1275,0.0758) (0.1311,0.0758) (0.1347,0.0758) (0.1383,0.0758)
(0.1231,0.0723) (0.1266,0.0723) (0.1302,0.0723) (0.1338,0.0723)
(0.1222,0.0689) (0.1258,0.0689) (0.1293,0.0689) (0.1329,0.0689) (0.1365,0.0689) (0.1419,0.0689)
(0.1222,0.0655) (0.1258,0.0655) (0.1293,0.0655) (0.1329,0.0655) (0.1365,0.0655) (0.1419,0.0655)
(0.1222,0.0620) (0.1258,0.0620) (0.1293,0.0620) (0.1329,0.0620) (0.1365,0.0620) (0.1428,0.0620)
(0.1231,0.0586) (0.1275,0.0586) (0.1320,0.0586) (0.1365,0.0586) (0.1419,0.0586)
(0.1240,0.0552) (0.1284,0.0552) (0.1329,0.0552) (0.1383,0.0552) (0.1428,0.0552) (0.1464,0.0552)
(0.1311,0.0517) (0.1356,0.0517) (0.1401,0.0517) (0.1446,0.0517) (0.1491,0.0517)
(0.1338,0.0483) (0.1383,0.0483) (0.1428,0.0483) (0.1473,0.0483) (0.1509,0.0483)
(0.1365,0.0449) (0.1410,0.0449) (0.1455,0.0449) (0.1500,0.0449) (0.1545,0.0449)
(0.1392,0.0414) (0.1437,0.0414) (0.1482,0.0414) (0.1527,0.0414) (0.1581,0.0414)
(0.1410,0.0380) (0.1455,0.0380) (0.1500,0.0380) (0.1545,0.0380) (0.1599,0.0380) (0.1644,0.0380)
(0.1428,0.0346) (0.1473,0.0346) (0.1518,0.0346) (0.1563,0.0346) (0.1617,0.0346) (0.1662,0.0346)
(0.1698,0.0346)
(0.1482,0.0311) (0.1527,0.0311) (0.1572,0.0311) (0.1617,0.0311) (0.1671,0.0311) (0.1707,0.0311)
(0.1437,0.0263)
(0.1491,0.0277) (0.1545,0.0277) (0.1590,0.0277) (0.1635,0.0277) (0.1671,0.0277) (0.1716,0.0277)
(0.1752,0.0277)
(0.1527,0.0243) (0.1572,0.0243) (0.1617,0.0243) (0.1662,0.0243) (0.1707,0.0243) (0.1752,0.0243)
(0.1779,0.0243)
(0.1545,0.0208) (0.1590,0.0208) (0.1635,0.0208) (0.1680,0.0208) (0.1725,0.0208) (0.1770,0.0208)
(0.1545,0.0174) (0.1590,0.0174) (0.1635,0.0174) (0.1680,0.0174) (0.1725,0.0174) (0.1770,0.0174)
(0.1806,0.0174)
(0.1563,0.0140) (0.1608,0.0140) (0.1653,0.0140) (0.1698,0.0140) (0.1743,0.0140) (0.1788,0.0140)
(0.1572,0.0105) (0.1617,0.0105) (0.1662,0.0105) (0.1707,0.0105) (0.1752,0.0105) (0.1788,0.0105)
(0.1527,0.0071) (0.1581,0.0071) (0.1635,0.0071) (0.1680,0.0071) (0.1725,0.0071) (0.1770,0.0071)
(0.1797,0.0071)
(0.1662,0.0037) (0.1707,0.0037) (0.1752,0.0037) (0.1779,0.0037)
(0.1105,0.0569) (0.1141,0.0569) (0.1060,0.0534) (0.1105,0.0534) (0.1150,0.0534) (0.1186,0.0534)
(0.1042,0.0500) (0.1087,0.0500) (0.1132,0.0500) (0.1177,0.0500) (0.1213,0.0500)
(0.1051,0.0466) (0.1096,0.0466) (0.1141,0.0466) (0.1186,0.0466) (0.1222,0.0466)
(0.1078,0.0431) (0.1123,0.0431) (0.1168,0.0431) (0.1213,0.0431) (0.1266,0.0431) (0.1302,0.0431)
(0.1114,0.0397) (0.1159,0.0397) (0.1204,0.0397) (0.1249,0.0397) (0.1266,0.0354)
(0.1081,0.0294) (0.1168,0.0294) (0.1204,0.0311) (0.1231,0.0268) (0.1249,0.0234) (0.1186,0.0205)
(0.1249,0.0182) (0.1275,0.0217)
(0.1302,0.0140) (0.1338,0.0122) (0.1383,0.0131) (0.1428,0.0148) (0.1473,0.0157) (0.1518,0.0140)
(0.1356,0.0105) (0.1401,0.0157) (0.1545,0.0062) (0.1572,0.0045) (0.1626,0.0062)
(0.1797,0.0466) (0.1833,0.0466) (0.1868,0.0449) (0.1904,0.0440) (0.1931,0.0431) (0.1806,0.0431)
(0.1842,0.0423) (0.1886,0.0414) (0.1851,0.0388) (0.1833,0.0400)
(0.1635,-0.0067) (0.1680,-0.0032) (0.1716,-0.0015) (0.1743,0.0002) (0.1725,-0.0067) (0.1752,-0.0101)
(0.1779,-0.0118) (0.1797,-0.0161) (0.1824,-0.0204) (0.1851,-0.0118) (0.1868,-0.0238) (0.1886,-0.0281)
(0.1922,-0.0273) (0.1949,-0.0358) (0.1985,-0.0333) (0.2021,-0.0315) (0.2057,-0.0273) (0.2066,-0.0230)
(0.2048,-0.0307) (0.1976,-0.0187) (0.1967,-0.0212) (0.1985,-0.0235) (0.1886,0.0002) (0.1913,-0.0032)
(0.1931,-0.0058) (0.1851,0.0062) (0.1868,0.0157) (0.1913,0.0105) (0.1982,0.0028) (0.2039,0.0023)
(0.1815,-0.0101) (0.1779,-0.0067) (0.1931,-0.0247) (0.2012,-0.0324) (0.1698,0.0037) (0.1815,0.0037)
(0.1851,0.0002) (0.1761,-0.0032) (0.1833,-0.0032) (0.1922,-0.0307) (0.1779,-0.0015) (0.1886,-0.0075)
};
\addplot[loa] coordinates {(-0.01,0.0891) (0.23,0.0891)};
\addplot[meanline] coordinates {(-0.01,0.0386) (0.23,0.0386)};
\addplot[loa] coordinates {(-0.01,-0.0119) (0.23,-0.0119)};
\end{axis}

% ---------------- E: linear fit pipeline, Bland-Altman ----------------
\begin{axis}[baplot, at={(388.5pt,53.5pt)}, anchor=south west, title={Linear Fit Pipeline}]
\addplot[bigscat] coordinates {
(0.0282,0.0439) (0.0327,0.0439) (0.0372,0.0439) (0.0417,0.0439) (0.0462,0.0439) (0.0507,0.0439)
(0.0255,0.0405) (0.0300,0.0405) (0.0345,0.0405) (0.0390,0.0405) (0.0435,0.0405) (0.0480,0.0405)
(0.0525,0.0405) (0.0561,0.0405)
(0.0246,0.0371) (0.0291,0.0371) (0.0336,0.0371) (0.0381,0.0371) (0.0426,0.0371) (0.0471,0.0371)
(0.0516,0.0371) (0.0561,0.0371) (0.0597,0.0371)
(0.0228,0.0336) (0.0273,0.0336) (0.0318,0.0336) (0.0363,0.0336) (0.0408,0.0336) (0.0453,0.0336)
(0.0498,0.0336) (0.0543,0.0336) (0.0588,0.0336) (0.0633,0.0336)
(0.0210,0.0302) (0.0255,0.0302) (0.0300,0.0302) (0.0345,0.0302) (0.0390,0.0302) (0.0435,0.0302)
(0.0480,0.0302) (0.0525,0.0302) (0.0570,0.0302) (0.0615,0.0302) (0.0660,0.0302)
(0.0192,0.0268) (0.0237,0.0268) (0.0282,0.0268) (0.0327,0.0268) (0.0372,0.0268) (0.0417,0.0268)
(0.0462,0.0268) (0.0507,0.0268) (0.0552,0.0268) (0.0597,0.0268) (0.0642,0.0268) (0.0695,0.0268)
(0.0731,0.0268)
(0.0183,0.0233) (0.0228,0.0233) (0.0273,0.0233) (0.0318,0.0233) (0.0363,0.0233) (0.0408,0.0233)
(0.0453,0.0233) (0.0498,0.0233) (0.0543,0.0233) (0.0624,0.0233) (0.0669,0.0233) (0.0713,0.0233)
(0.0165,0.0199) (0.0210,0.0199) (0.0255,0.0199) (0.0300,0.0199) (0.0345,0.0199) (0.0390,0.0199)
(0.0435,0.0199) (0.0480,0.0199) (0.0525,0.0199) (0.0570,0.0199) (0.0615,0.0199) (0.0687,0.0199)
(0.0722,0.0199)
(0.0147,0.0165) (0.0192,0.0165) (0.0237,0.0165) (0.0282,0.0165) (0.0327,0.0165) (0.0372,0.0165)
(0.0417,0.0165) (0.0462,0.0165) (0.0507,0.0165) (0.0552,0.0165) (0.0597,0.0165) (0.0704,0.0165)
(0.0138,0.0130) (0.0183,0.0130) (0.0228,0.0130) (0.0273,0.0130) (0.0318,0.0130) (0.0363,0.0130)
(0.0408,0.0130) (0.0453,0.0130) (0.0498,0.0130) (0.0543,0.0130) (0.0588,0.0130) (0.0633,0.0130)
(0.0687,0.0130) (0.0731,0.0130)
(0.0138,0.0096) (0.0183,0.0096) (0.0228,0.0096) (0.0273,0.0096) (0.0318,0.0096) (0.0363,0.0096)
(0.0408,0.0096) (0.0453,0.0096) (0.0498,0.0096) (0.0543,0.0096) (0.0588,0.0096) (0.0633,0.0096)
(0.0678,0.0096) (0.0722,0.0096) (0.0767,0.0096)
(0.0147,0.0062) (0.0192,0.0062) (0.0237,0.0062) (0.0282,0.0062) (0.0327,0.0062) (0.0372,0.0062)
(0.0417,0.0062) (0.0462,0.0062) (0.0507,0.0062) (0.0597,0.0062) (0.0642,0.0062) (0.0687,0.0062)
(0.0731,0.0062) (0.0785,0.0062)
(0.0174,0.0027) (0.0219,0.0027) (0.0264,0.0027) (0.0309,0.0027) (0.0354,0.0027) (0.0399,0.0027)
(0.0444,0.0027) (0.0489,0.0027) (0.0534,0.0027) (0.0579,0.0027) (0.0633,0.0027) (0.0669,0.0027)
(0.0722,0.0027) (0.0776,0.0027) (0.0830,0.0027)
(0.0210,-0.0007) (0.0255,-0.0007) (0.0300,-0.0007) (0.0345,-0.0007) (0.0390,-0.0007) (0.0435,-0.0007)
(0.0480,-0.0007) (0.0525,-0.0007) (0.0651,-0.0007) (0.0695,-0.0007) (0.0740,-0.0007) (0.0785,-0.0007)
(0.0830,-0.0007) (0.0875,-0.0007) (0.0920,-0.0007)
(0.0255,-0.0041) (0.0300,-0.0041) (0.0345,-0.0041) (0.0390,-0.0041) (0.0435,-0.0041) (0.0498,-0.0041)
(0.0543,-0.0041) (0.0615,-0.0041) (0.0669,-0.0041) (0.0722,-0.0041) (0.0758,-0.0041) (0.0812,-0.0041)
(0.0866,-0.0041) (0.0920,-0.0041) (0.0956,-0.0041)
(0.0327,-0.0076) (0.0372,-0.0076) (0.0507,-0.0076) (0.0561,-0.0076) (0.0633,-0.0076) (0.0687,-0.0076)
(0.0776,-0.0076) (0.0848,-0.0076) (0.0902,-0.0076) (0.0956,-0.0076)
(0.0597,-0.0110) (0.0633,-0.0110) (0.0704,-0.0110) (0.0758,-0.0110) (0.0866,-0.0110) (0.0920,-0.0110)
(0.0974,-0.0110) (0.1010,-0.0110)
(0.0458,0.0620) (0.0803,0.0254) (0.0776,0.0153)
(0.0974,-0.0024) (0.1019,-0.0007) (0.1064,-0.0076) (0.1082,-0.0093) (0.1109,-0.0076) (0.1127,0.0001)
(0.1172,0.0019) (0.1118,-0.0059) (0.1046,-0.0127) (0.1082,-0.0179) (0.1154,-0.0179) (0.1190,-0.0153)
(0.1226,-0.0162) (0.1262,-0.0170) (0.1316,-0.0136) (0.1334,-0.0179) (0.1307,0.0010) (0.1334,-0.0024)
(0.1316,-0.0021) (0.1477,-0.0036) (0.1531,-0.0021) (0.1405,-0.0196) (0.1441,-0.0187) (0.1495,-0.0187)
(0.1513,-0.0230) (0.1558,-0.0196) (0.1370,-0.0213) (0.1064,-0.0239) (0.1118,-0.0230) (0.0956,-0.0213)
(0.0974,-0.0248) (0.0956,-0.0290) (0.1082,-0.0299) (0.1136,-0.0316) (0.1172,-0.0333) (0.1208,-0.0316)
(0.1253,-0.0368) (0.1316,-0.0368) (0.1334,-0.0333) (0.1405,-0.0290) (0.1387,-0.0368) (0.1441,-0.0368)
(0.1459,-0.0325) (0.1531,-0.0316) (0.1513,-0.0351) (0.1531,-0.0299) (0.1271,-0.0316) (0.1226,-0.0333)
(0.1199,-0.0351) (0.1154,-0.0354) (0.0920,-0.0162) (0.0938,-0.0145) (0.0884,-0.0093) (0.0848,-0.0059)
(0.0830,-0.0145) (0.1010,-0.0153) (0.1046,-0.0093) (0.0992,-0.0093) (0.0974,-0.0110) (0.0902,-0.0136)
};
\addplot[loa] coordinates {(-0.01,0.0443) (0.23,0.0443)};
\addplot[meanline] coordinates {(-0.01,0.0118) (0.23,0.0118)};
\addplot[loa] coordinates {(-0.01,-0.0207) (0.23,-0.0207)};
\end{axis}

% ---------------- F: complex fit pipeline, Bland-Altman ----------------
\begin{axis}[baplot, at={(692.5pt,53.5pt)}, anchor=south west, title={Complex Fit Pipeline}]
\addplot[bigscat] coordinates {
(0.0090,0.0050) (0.0130,0.0045) (0.0170,0.0055) (0.0210,0.0060) (0.0260,0.0048) (0.0310,0.0052)
(0.0350,0.0045) (0.0400,0.0055) (0.0440,0.0048) (0.0490,0.0055) (0.0540,0.0050) (0.0580,0.0058)
(0.0620,0.0046) (0.0670,0.0055) (0.0710,0.0050) (0.0760,0.0058) (0.0800,0.0048) (0.0850,0.0052)
(0.0890,0.0045) (0.0980,0.0055) (0.1040,0.0040) (0.1100,0.0045) (0.1180,0.0035) (0.1250,0.0040)
(0.1350,0.0030) (0.1500,0.0035) (0.1600,0.0030) (0.1650,0.0050)
(0.0080,0.0015) (0.0120,0.0010) (0.0160,0.0018) (0.0200,0.0012) (0.0240,0.0016) (0.0280,0.0010)
(0.0320,0.0018) (0.0360,0.0013) (0.0400,0.0017) (0.0440,0.0010) (0.0480,0.0015) (0.0520,0.0012)
(0.0560,0.0018) (0.0600,0.0011) (0.0640,0.0016) (0.0680,0.0012) (0.0720,0.0018) (0.0760,0.0010)
(0.0800,0.0015) (0.0840,0.0012) (0.0880,0.0017) (0.0920,0.0015) (0.0960,0.0020) (0.1000,0.0012)
(0.1050,0.0018) (0.1110,0.0010) (0.1160,0.0015) (0.1210,0.0020) (0.1270,0.0012) (0.1320,0.0018)
(0.1380,0.0010) (0.1440,0.0015) (0.1500,0.0012) (0.1550,0.0018) (0.1600,0.0013) (0.1660,0.0016)
(0.1700,0.0020)
(0.0100,-0.0020) (0.0140,-0.0025) (0.0180,-0.0018) (0.0220,-0.0022) (0.0260,-0.0017) (0.0300,-0.0024)
(0.0340,-0.0019) (0.0380,-0.0023) (0.0420,-0.0018) (0.0460,-0.0025) (0.0500,-0.0020) (0.0540,-0.0023)
(0.0580,-0.0018) (0.0620,-0.0024) (0.0660,-0.0019) (0.0700,-0.0022) (0.0740,-0.0017) (0.0780,-0.0024)
(0.0820,-0.0020) (0.0860,-0.0022) (0.0900,-0.0018) (0.1000,-0.0020) (0.1080,-0.0025) (0.1150,-0.0015)
(0.1230,-0.0022) (0.1300,-0.0018) (0.1370,-0.0028) (0.1450,-0.0015) (0.1530,-0.0010)
(0.0120,-0.0050) (0.0160,-0.0055) (0.0200,-0.0048) (0.0260,-0.0053) (0.0300,-0.0047) (0.0340,-0.0056)
(0.0360,-0.0078) (0.0400,-0.0050) (0.0440,-0.0085) (0.0480,-0.0052) (0.0520,-0.0047) (0.0580,-0.0054)
(0.0640,-0.0048) (0.0700,-0.0052) (0.0760,-0.0047) (0.0820,-0.0053) (0.0880,-0.0050) (0.1030,-0.0050)
(0.1060,-0.0060) (0.1200,-0.0040) (0.1380,-0.0055)
(0.0248,0.0160) (0.0201,0.0110) (0.0273,0.0096) (0.0413,-0.0084) (0.0450,-0.0100) (0.0934,0.0096)
};
\addplot[loa] coordinates {(-0.01,0.0054) (0.23,0.0054)};
\addplot[meanline] coordinates {(-0.01,0.0004) (0.23,0.0004)};
\addplot[loa] coordinates {(-0.01,-0.0046) (0.23,-0.0046)};
\end{axis}

% panel letters
\begin{scope}[every node/.style={anchor=base west, inner sep=0pt, font=\letterfont\bfseries\letsize}]
\node at (4.8pt,534pt) {A};
\node at (357pt,534.5pt) {B};
\node at (659.5pt,534.5pt) {C};
\node at (5.3pt,269pt) {D};
\node at (357pt,269pt) {E};
\node at (661.7pt,269pt) {F};
\end{scope}
\end{tikzpicture}
\end{document}
